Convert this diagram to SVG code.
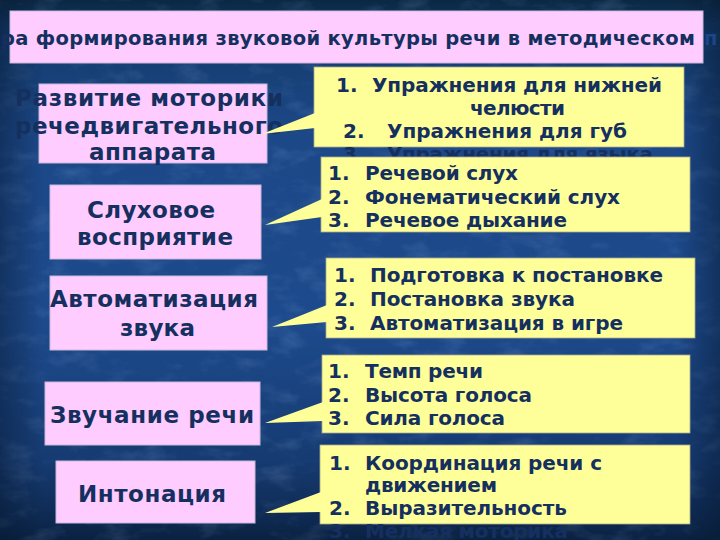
<svg xmlns="http://www.w3.org/2000/svg" width="720" height="540" viewBox="0 0 720 540">
<defs>
<linearGradient id="bgv" x1="0" y1="0" x2="0" y2="1">
<stop offset="0" stop-color="#0b2742"/>
<stop offset="0.05" stop-color="#133a6a"/>
<stop offset="0.25" stop-color="#1c4888"/>
<stop offset="0.6" stop-color="#1d4a8c"/>
<stop offset="0.85" stop-color="#163b72"/>
<stop offset="0.96" stop-color="#0e2a52"/>
<stop offset="1" stop-color="#0a2140"/>
</linearGradient>
<linearGradient id="bgh" x1="0" y1="0" x2="1" y2="0">
<stop offset="0" stop-color="#061830" stop-opacity="0.45"/>
<stop offset="0.06" stop-color="#061830" stop-opacity="0"/>
<stop offset="0.94" stop-color="#061830" stop-opacity="0"/>
<stop offset="1" stop-color="#061830" stop-opacity="0.5"/>
</linearGradient>
<filter id="tex" x="0" y="0" width="100%" height="100%">
<feTurbulence type="fractalNoise" baseFrequency="0.03 0.06" numOctaves="4" seed="11"/>
<feColorMatrix type="matrix" values="0 0 0 0 0.42  0 0 0 0 0.6  0 0 0 0 0.95  0 0 0 1.6 -0.78"/>
</filter>
<style>
.pink{fill:#ffccff;stroke:#c8b8d8;stroke-width:1}
.yel{fill:#ffff99;stroke:#a8a890;stroke-width:0.8}
.ptr{fill:#ffff99;stroke:none}
text{font-family:"DejaVu Sans","Verdana",sans-serif;font-weight:bold;fill:#15305f}
.L{font-size:23px}
.C{font-size:20px}
.T{font-size:19.5px}
</style>
</defs>
<rect width="720" height="540" fill="url(#bgv)"/>
<rect width="720" height="540" filter="url(#tex)" opacity="0.22"/>
<rect width="720" height="540" fill="url(#bgh)"/>

<g id="title">
<rect class="pink" x="10" y="11" width="693" height="52"/>
<text class="T" x="1" y="45" textLength="694" lengthAdjust="spacing">ра формирования звуковой культуры речи в методическом</text>
<text class="T" x="704" y="45" style="fill:#1a4588">п</text>
</g>

<g id="node-motor">
<rect class="pink" x="39" y="84" width="228" height="79"/>
<text class="L" x="15" y="106" textLength="268" lengthAdjust="spacing">Развитие моторики</text>
<text class="L" x="15" y="134" textLength="268" lengthAdjust="spacing">речедвигательного</text>
<text class="L" x="89" y="160" textLength="127" lengthAdjust="spacing">аппарата</text>
</g>

<g id="node-hearing">
<rect class="pink" x="50" y="185" width="211" height="74"/>
<text class="L" x="87" y="218" textLength="128" lengthAdjust="spacing">Слуховое</text>
<text class="L" x="77" y="245" textLength="156" lengthAdjust="spacing">восприятие</text>
</g>

<g id="node-auto">
<rect class="pink" x="50" y="276" width="217" height="74"/>
<text class="L" x="50" y="307" textLength="208" lengthAdjust="spacing">Автоматизация</text>
<text class="L" x="120" y="336" textLength="75" lengthAdjust="spacing">звука</text>
</g>

<g id="node-sound">
<rect class="pink" x="45" y="382" width="215" height="63"/>
<text class="L" x="50" y="423" textLength="204" lengthAdjust="spacing">Звучание речи</text>
</g>

<g id="node-inton">
<rect class="pink" x="56" y="461" width="199" height="62"/>
<text class="L" x="78" y="502" textLength="148" lengthAdjust="spacing">Интонация</text>
</g>

<g id="callout-motor">
<rect class="yel" x="314" y="67" width="370" height="80"/>
<text class="C" x="336" y="92">1.</text>
<text class="C" x="372" y="92" textLength="290" lengthAdjust="spacing">Упражнения для нижней</text>
<text class="C" x="470" y="115" textLength="95" lengthAdjust="spacing">челюсти</text>
<text class="C" x="343" y="138">2.</text>
<text class="C" x="387" y="138" textLength="240" lengthAdjust="spacing">Упражнения для губ</text>
<text class="C" x="343" y="161">3.</text>
<text class="C" x="387" y="161" textLength="266" lengthAdjust="spacing">Упражнения для языка</text>
</g>

<g id="callout-hearing">
<rect class="yel" x="321" y="157" width="369" height="75"/>
<text class="C" x="328" y="180">1.</text>
<text class="C" x="365" y="180" textLength="153" lengthAdjust="spacing">Речевой слух</text>
<text class="C" x="328" y="204">2.</text>
<text class="C" x="365" y="204" textLength="255" lengthAdjust="spacing">Фонематический слух</text>
<text class="C" x="328" y="227">3.</text>
<text class="C" x="365" y="227" textLength="202" lengthAdjust="spacing">Речевое дыхание</text>
</g>

<g id="callout-auto">
<rect class="yel" x="326" y="258" width="369" height="80"/>
<text class="C" x="334" y="282">1.</text>
<text class="C" x="370" y="282" textLength="293" lengthAdjust="spacing">Подготовка к постановке</text>
<text class="C" x="334" y="306">2.</text>
<text class="C" x="370" y="306" textLength="205" lengthAdjust="spacing">Постановка звука</text>
<text class="C" x="334" y="330">3.</text>
<text class="C" x="370" y="330" textLength="253" lengthAdjust="spacing">Автоматизация в игре</text>
</g>

<g id="callout-sound">
<rect class="yel" x="322" y="355" width="368" height="78"/>
<text class="C" x="328" y="378">1.</text>
<text class="C" x="365" y="378" textLength="118" lengthAdjust="spacing">Темп речи</text>
<text class="C" x="328" y="402">2.</text>
<text class="C" x="365" y="402" textLength="167" lengthAdjust="spacing">Высота голоса</text>
<text class="C" x="328" y="425">3.</text>
<text class="C" x="365" y="425" textLength="140" lengthAdjust="spacing">Сила голоса</text>
</g>

<g id="callout-inton">
<rect class="yel" x="320" y="445" width="370" height="79"/>
<text class="C" x="329" y="470">1.</text>
<text class="C" x="365" y="470" textLength="237" lengthAdjust="spacing">Координация речи с</text>
<text class="C" x="365" y="492" textLength="132" lengthAdjust="spacing">движением</text>
<text class="C" x="329" y="515">2.</text>
<text class="C" x="365" y="515" textLength="202" lengthAdjust="spacing">Выразительность</text>
<text class="C" x="329" y="538">3.</text>
<text class="C" x="365" y="538" textLength="203" lengthAdjust="spacing">Мелкая моторика</text>
</g>

<g id="connectors">
<polygon class="ptr" points="315,113 262,134 315,128"/>
<polygon class="ptr" points="322,199 265,225 322,217"/>
<polygon class="ptr" points="327,305 272,327 327,322"/>
<polygon class="ptr" points="323,402 265,423 323,421"/>
<polygon class="ptr" points="321,492 265,513 321,512"/>
</g>
</svg>
